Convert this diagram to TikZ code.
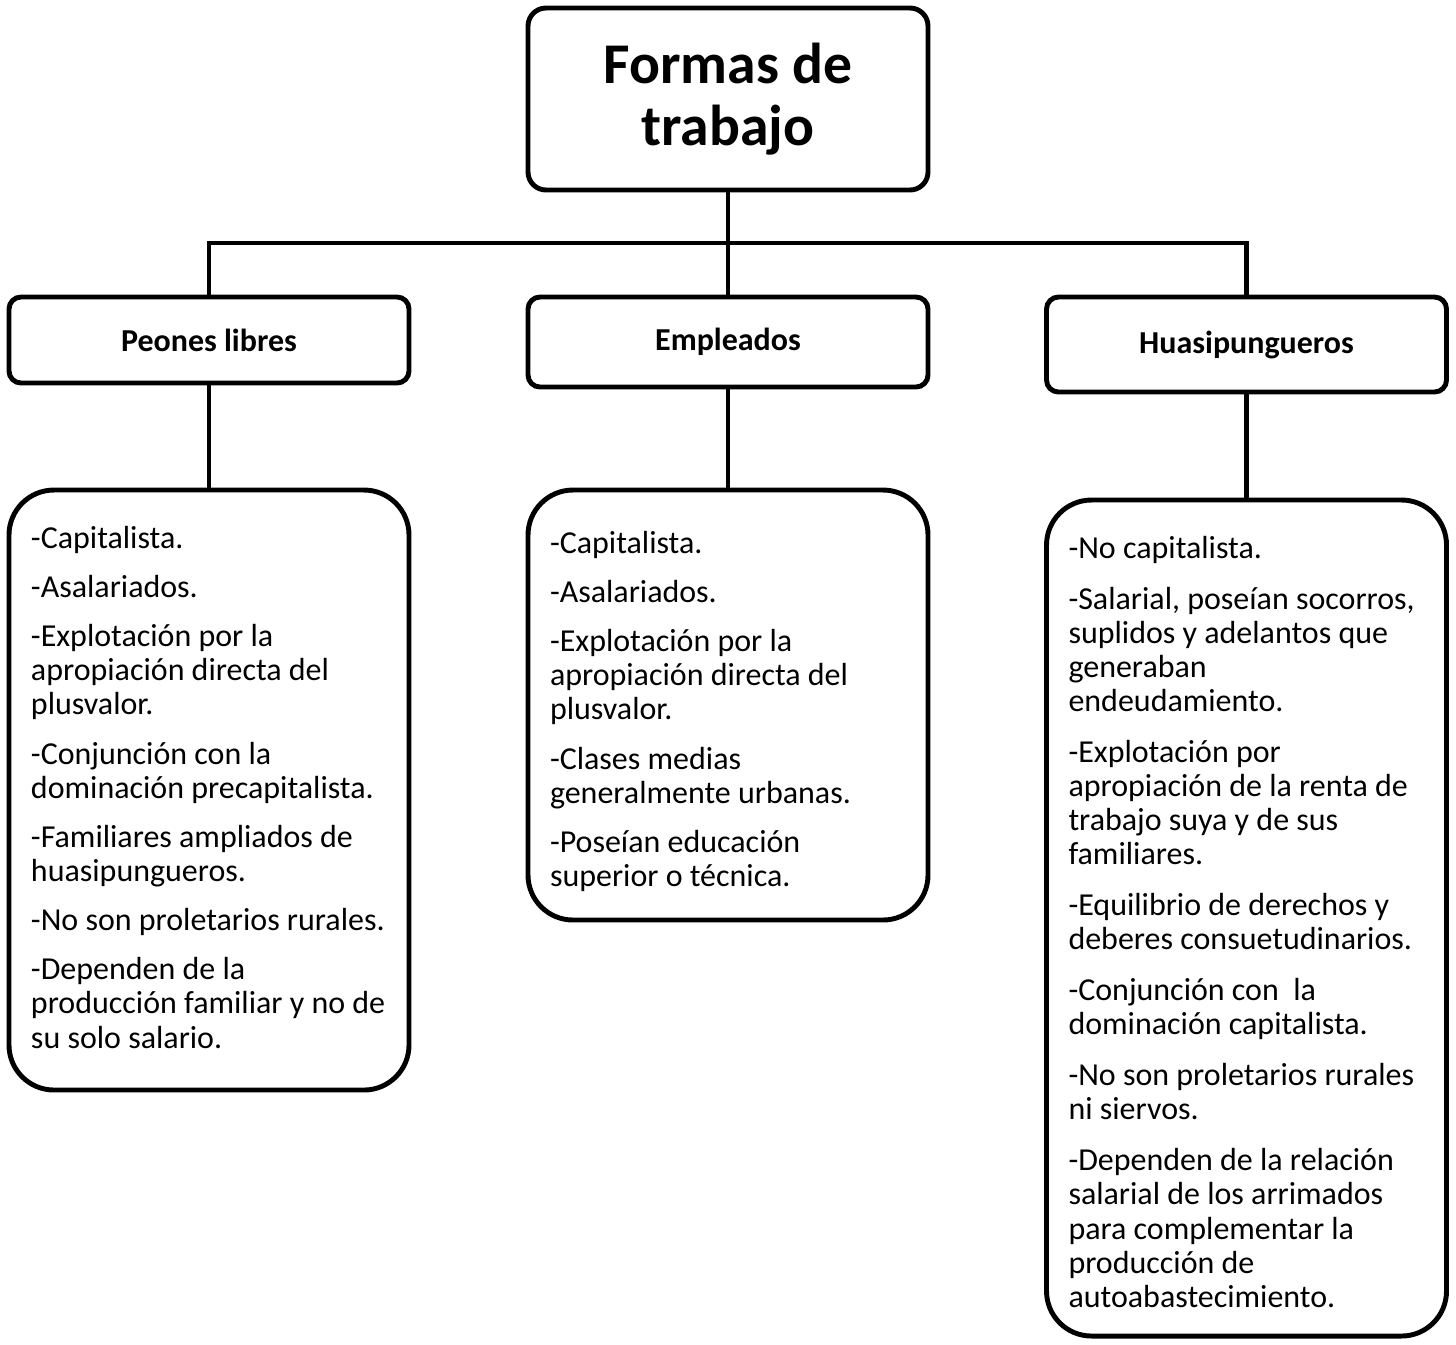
\documentclass[tikz,border=0pt]{standalone}
\usepackage{fontspec}
\setmainfont{Carlito}
\usetikzlibrary{positioning, calc}

\begin{document}
\begin{tikzpicture}[
        line width=1.4pt,
        titlebox/.style={draw, rounded corners=0.18cm, minimum width=4cm, minimum height=1.82cm, align=center, font=\fontsize{16.4}{17.6}\selectfont\bfseries},
        headbox/.style={draw, rounded corners=0.12cm, minimum width=4cm, align=center, font=\fontsize{9.1}{9.7}\selectfont\bfseries},
        infobox/.style={draw, rounded corners=0.45cm, minimum width=4cm},
        infotext/.style={anchor=north west, inner sep=0pt, align=left, font=\fontsize{9.1}{9.7}\selectfont}
    ]
            \useasboundingbox (0,0) rectangle (14.56,-13.44);

            \node[titlebox] (title) at (7.28,-0.99) {Formas de\\trabajo};

            \node[headbox, minimum height=0.86cm] (peones) at (2.09,-3.40) {Peones libres};
            \node[headbox, minimum height=0.90cm] (empleados) at (7.28,-3.42) {Empleados};
            \node[headbox, minimum height=0.95cm] (huasi) at (12.465,-3.445) {Huasipungueros};

            \node[infobox, minimum height=6.00cm] (peonesDet) at (2.09,-7.90) {};
            \node[infobox, minimum height=4.30cm] (empleadosDet) at (7.28,-7.05) {};
            \node[infobox, minimum height=8.36cm] (huasiDet) at (12.465,-9.18) {};

            \node[infotext] (peonesTxt) at ($(peonesDet.north west)+(0.22,-0.36)$) {-Capitalista.\\[4.3pt]
                -Asalariados.\\[4.3pt]
                -Explotación por la\\apropiación directa del\\plusvalor.\\[4.3pt]
                -Conjunción con la\\dominación precapitalista.\\[4.3pt]
                -Familiares ampliados de\\huasipungueros.\\[4.3pt]
                -No son proletarios rurales.\\[4.3pt]
                -Dependen de la\\producción familiar y no de\\su solo salario.};

            \node[infotext] (empleadosTxt) at ($(empleadosDet.north west)+(0.22,-0.41)$) {-Capitalista.\\[4.3pt]
                -Asalariados.\\[4.3pt]
                -Explotación por la\\apropiación directa del\\plusvalor.\\[4.3pt]
                -Clases medias\\generalmente urbanas.\\[4.3pt]
                -Poseían educación\\superior o técnica.};

            \node[infotext] (huasiTxt) at ($(huasiDet.north west)+(0.22,-0.36)$) {-No capitalista.\\[4.8pt]
                -Salarial, poseían socorros,\\suplidos y adelantos que\\generaban\\endeudamiento.\\[4.8pt]
                -Explotación por\\apropiación de la renta de\\trabajo suya y de sus\\familiares.\\[4.8pt]
                -Equilibrio de derechos y\\deberes consuetudinarios.\\[4.8pt]
                -Conjunción con\ \ la\\dominación capitalista.\\[4.8pt]
                -No son proletarios rurales\\ni siervos.\\[4.8pt]
                -Dependen de la relación\\salarial de los arrimados\\para complementar la\\producción de\\autoabastecimiento.};

            % conectores
            \coordinate (split) at (7.28,-2.43);
            \draw (title.south) -- (empleados.north);
            \draw (peones.north) |- (split) -| (huasi.north);
            \draw (peones.south) -- (peonesDet.north);
            \draw (empleados.south) -- (empleadosDet.north);
            \draw (huasi.south) -- (huasiDet.north);
        \end{tikzpicture}
\end{document}
